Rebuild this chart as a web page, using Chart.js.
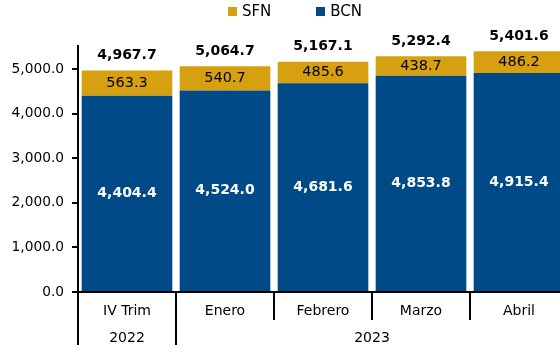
<!DOCTYPE html>
<html>
<head>
    <title>SFN / BCN</title>
    <script src="https://cdn.jsdelivr.net/npm/chart.js"></script>
    <style>
        body { margin: 0; overflow: hidden; background: #fff; }
        #wrap { position: relative; width: 568px; height: 345px; }
    </style>
</head>
<body>
    <div id="wrap"><canvas id="sfnChart"></canvas></div>
    <script>
        const categories = ['IV Trim', 'Enero', 'Febrero', 'Marzo', 'Abril'];
        const years = ['2022', '2023'];
        const yearSpans = [1, 4]; // how many categories sit under each year
        const bcn = [4404.4, 4524.0, 4681.6, 4853.8, 4915.4];
        const sfn = [563.3, 540.7, 485.6, 438.7, 486.2];
        const totals = [4967.7, 5064.7, 5167.1, 5292.4, 5401.6];
        const yTicks = [0, 1000, 2000, 3000, 4000, 5000];

        const BLUE = '#004a87';
        const GOLD = '#d6a010';
        const FONT = "'DejaVu Sans', Verdana, sans-serif";
        const fmt = new Intl.NumberFormat('en-US', { minimumFractionDigits: 1, maximumFractionDigits: 1 });

        Chart.defaults.font.family = FONT;
        Chart.defaults.color = '#000';

        // legend drawn by hand: small squares, tight gap, SFN first
        const legendPlugin = {
            id: 'topLegend',
            afterDraw(chart) {
                const ctx = chart.ctx;
                const items = chart.data.datasets.slice().reverse();
                const box = 9, gap = 5, spacing = 45;
                ctx.save();
                ctx.font = '15px ' + FONT;
                ctx.textBaseline = 'middle';
                const widths = items.map(d => box + gap + ctx.measureText(d.label).width);
                const total = widths.reduce((a, b) => a + b, 0) + spacing * (items.length - 1);
                let x = 295 - total / 2;
                items.forEach((d, i) => {
                    ctx.fillStyle = d.backgroundColor;
                    ctx.fillRect(Math.round(x), 7, box, box);
                    ctx.fillStyle = '#000';
                    ctx.fillText(d.label, x + box + gap, 12);
                    x += widths[i] + spacing;
                });
                ctx.restore();
            }
        };

        // values inside the segments and totals on top
        const labelPlugin = {
            id: 'barLabels',
            afterDatasetsDraw(chart) {
                const ctx = chart.ctx;
                ctx.save();
                ctx.textAlign = 'center';
                ctx.textBaseline = 'middle';
                const bottomMeta = chart.getDatasetMeta(0);
                const topMeta = chart.getDatasetMeta(1);
                bottomMeta.data.forEach((bar, i) => {
                    ctx.font = 'bold 14px ' + FONT;
                    ctx.fillStyle = '#fff';
                    ctx.fillText(fmt.format(bcn[i]), bar.x, (bar.y + bar.base) / 2);
                });
                topMeta.data.forEach((bar, i) => {
                    ctx.font = '14.5px ' + FONT;
                    ctx.fillStyle = '#000';
                    ctx.fillText(fmt.format(sfn[i]), bar.x, (bar.y + bar.base) / 2);
                    ctx.font = 'bold 14px ' + FONT;
                    ctx.fillText(fmt.format(totals[i]), bar.x, bar.y - 15);
                });
                ctx.restore();
            }
        };

        // category separators and the year row under the x axis
        const groupPlugin = {
            id: 'yearGroups',
            afterDraw(chart) {
                const ctx = chart.ctx;
                const xs = chart.scales.x;
                const area = chart.chartArea;
                const h = chart.height;
                const half = (xs.getPixelForValue(1) - xs.getPixelForValue(0)) / 2;
                const groupEdges = [];
                let acc = 0;
                yearSpans.forEach(n => { acc += n; groupEdges.push(acc); });

                ctx.save();
                ctx.strokeStyle = '#000';
                ctx.lineWidth = 2;
                ctx.beginPath();
                ctx.moveTo(area.left, area.bottom);
                ctx.lineTo(area.left, h);
                for (let i = 1; i <= categories.length; i++) {
                    const bx = Math.round(xs.getPixelForValue(i - 1) + half);
                    ctx.moveTo(bx, area.bottom);
                    ctx.lineTo(bx, groupEdges.includes(i) ? h : area.bottom + 28);
                }
                ctx.stroke();

                ctx.font = '14px ' + FONT;
                ctx.fillStyle = '#000';
                ctx.textAlign = 'center';
                ctx.textBaseline = 'middle';
                let start = 0;
                years.forEach((yr, g) => {
                    const end = start + yearSpans[g] - 1;
                    const cx = (xs.getPixelForValue(start) + xs.getPixelForValue(end)) / 2;
                    ctx.fillText(yr, cx, area.bottom + 46);
                    start = end + 1;
                });
                ctx.restore();
            }
        };

        new Chart(document.getElementById('sfnChart'), {
            type: 'bar',
            data: {
                labels: categories,
                datasets: [
                    { label: 'BCN', data: bcn, backgroundColor: BLUE },
                    { label: 'SFN', data: sfn, backgroundColor: GOLD }
                ]
            },
            options: {
                responsive: true,
                maintainAspectRatio: false,
                animation: false,
                layout: { padding: { top: 46, left: 0, right: 0, bottom: 0 } },
                datasets: { bar: { categoryPercentage: 1, barPercentage: 0.925 } },
                plugins: {
                    legend: { display: false },
                    tooltip: { enabled: false }
                },
                scales: {
                    x: {
                        stacked: true,
                        grid: { display: false },
                        border: { display: true, color: '#000', width: 2 },
                        ticks: { padding: 3, font: { size: 14 }, color: '#000' },
                        afterFit: s => { s.height = 53; }
                    },
                    y: {
                        stacked: true,
                        min: 0,
                        max: 5520,
                        grid: { drawOnChartArea: false, drawTicks: true, tickLength: 6, color: '#000', lineWidth: 2 },
                        border: { display: true, color: '#000', width: 2 },
                        ticks: {
                            padding: 8,
                            font: { size: 13.75 },
                            color: '#000',
                            callback: v => fmt.format(v)
                        },
                        afterBuildTicks: s => { s.ticks = yTicks.map(v => ({ value: v })); },
                        afterFit: s => { s.width = 78; }
                    }
                }
            },
            plugins: [legendPlugin, labelPlugin, groupPlugin]
        });
    </script>
</body>
</html>
